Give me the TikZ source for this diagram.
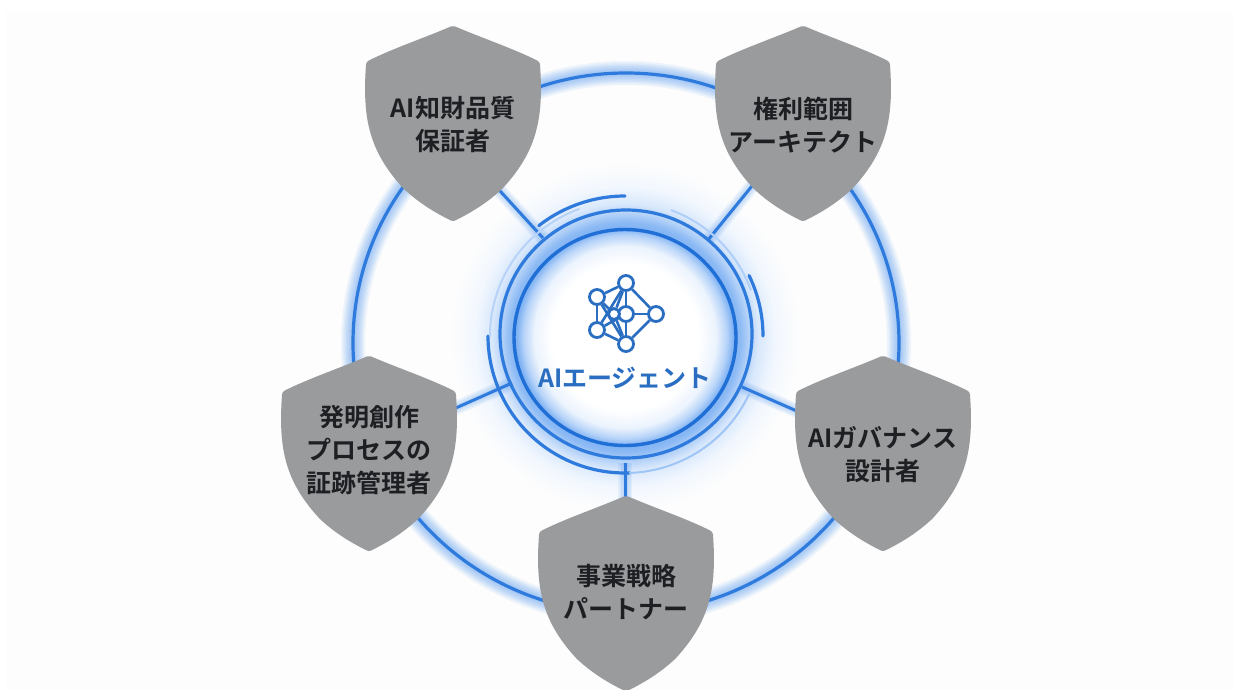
\documentclass[tikz,border=0pt]{standalone}
\usepackage{fontspec}
\setmainfont{Noto Sans CJK JP}[BoldFont={Noto Sans CJK JP Bold}]
\definecolor{bgc}{HTML}{FDFDFD}
\definecolor{ringc}{HTML}{2F7BDD}
\definecolor{deepc}{HTML}{1F6FD6}
\definecolor{iconc}{HTML}{2A6EC2}
\definecolor{shieldc}{HTML}{9A9B9D}
\definecolor{inkc}{HTML}{1E1F22}
\definecolor{haloc}{HTML}{5E9EF0}
\pgfdeclarelayer{base}
\pgfdeclarelayer{edges}
\pgfsetlayers{base,edges,main}
\pgfdeclareradialshading{hubglow}{\pgfpoint{0bp}{0bp}}{%
 color(0bp)=(white);
 color(10.5bp)=(white);
 color(13bp)=(haloc!12!white);
 color(14.5bp)=(haloc!45!white);
 color(15.5bp)=(haloc!80!white);
 color(16.5bp)=(haloc!70!white);
 color(17.5bp)=(haloc!50!white);
 color(19bp)=(haloc!24!white);
 color(21.5bp)=(haloc!8!white);
 color(25bp)=(bgc);
 color(50bp)=(bgc)}
\tikzset{
 x=1pt,y=-1pt,
 ringline/.style={draw=ringc,line width=3.2pt,line cap=round},
 spoke/.style={draw=ringc,line width=3pt},
 glowline/.style={draw=haloc,opacity=.1,line cap=butt},
 shieldbody/.style={fill=shieldc,draw=shieldc,line width=10pt,line join=round},
 shieldtext/.style={text=inkc,font=\bfseries\fontsize{25}{33}\selectfont,align=center,inner sep=0pt},
 netedge/.style={draw=iconc,line width=2.6pt},
 netnode/.style={circle,draw=iconc,line width=2.8pt,fill=white,minimum size=15pt,inner sep=0pt},
}
\newcommand{\ArcPath}[3]{plot[domain=#2:#3,samples=90,smooth] ({625+#1*cos(\x)},{336-#1*sin(\x)})}
\newcommand{\Shield}[5]{%
 \path[shieldbody] (#1,#2+6) .. controls (#1+28,#2+18) and (#1+58,#2+28) .. (#1+82,#2+40)
  .. controls (#1+86,#2+95) and (#1+78,#2+125) .. (#1+46,#2+160)
  .. controls (#1+30,#2+175) and (#1+14,#2+184) .. (#1,#2+191)
  .. controls (#1-14,#2+184) and (#1-30,#2+175) .. (#1-46,#2+160)
  .. controls (#1-78,#2+125) and (#1-86,#2+95) .. (#1-82,#2+40)
  .. controls (#1-58,#2+28) and (#1-28,#2+18) .. (#1,#2+6) -- cycle;
 \node[shieldtext] (#3) at (#1,#2+#5) {#4};}
\newcommand{\BigGlow}[1]{%
 \foreach \w in {5,8,11,14,17,20,24}{\draw[glowline,line width=\w pt] #1;}}
\newcommand{\SpokeGlow}[1]{%
 \foreach \w in {5,8,11,14}{\draw[glowline,line width=\w pt] #1;}}
\begin{document}
\begin{tikzpicture}
\useasboundingbox (0,0) rectangle (1239,690);
\begin{pgfonlayer}{base}
\fill[white] (0,0) rectangle (1239,690);
\fill[bgc] (6,12) rectangle (1233,690);
\shade[shading=hubglow] (625,337) circle[radius=175];
\coordinate (big) at (626,343);
\BigGlow{(big) circle[x radius=273,y radius=270]}
\draw[ringline] (big) circle[x radius=273,y radius=270];
\coordinate (h1) at (543,238);
\coordinate (h2) at (708,240);
\coordinate (h3) at (512,383);
\coordinate (h4) at (742,387);
\coordinate (h5) at (625,463);
\coordinate (o1) at (490,180);
\coordinate (o2) at (765,170);
\coordinate (o3) at (440,415);
\coordinate (o4) at (815,419);
\coordinate (o5) at (625,520);
\foreach \i in {1,...,5}{\SpokeGlow{(h\i) -- (o\i)}\draw[spoke] (h\i) -- (o\i);}
\draw[draw=deepc,line width=3.4pt] (625,337.5) circle[x radius=111,y radius=108];
\draw[ringline] (626,334) circle[x radius=126,y radius=124];
\draw[ringline] \ArcPath{137}{180}{272};
\draw[draw=haloc!60!white,line width=2pt,line cap=round] \ArcPath{137}{272}{335};
\draw[draw=haloc!45!white,line width=2pt,line cap=round] \ArcPath{135}{110}{180};
\draw[ringline] \ArcPath{140}{90}{128};
\draw[draw=haloc!50!white,line width=2pt] \ArcPath{134}{20}{70};
\draw[ringline] \ArcPath{138}{0}{26};
\end{pgfonlayer}
\node[netnode] (n1) at (626,283) {};
\node[netnode] (n2) at (597,297) {};
\node[netnode] (n3) at (597,330) {};
\node[netnode] (n4) at (626,314) {};
\node[netnode,minimum size=11pt] (n5) at (614,314) {};
\node[netnode] (n6) at (656,314) {};
\node[netnode] (n7) at (626,344) {};
\begin{pgfonlayer}{edges}
\foreach \a/\b in {n1/n2,n1/n6,n1/n4,n1/n3,n2/n3,n2/n7,n2/n5,n3/n7,n3/n4,n7/n6,n4/n6,n4/n7,n5/n4,n5/n1,n5/n7}{\draw[netedge] (\a) -- (\b);}
\end{pgfonlayer}
\node[text=iconc,font=\bfseries\fontsize{25}{28}\selectfont,inner sep=0pt] (hub) at (625,378) {AIエージェント};
\Shield{453}{25}{s1}{AI知財品質\\保証者}{100}
\Shield{803}{25}{s2}{権利範囲\\アーキテクト}{100}
\Shield{369}{355}{s3}{発明創作\\プロセスの\\証跡管理者}{95}
\Shield{883}{355}{s4}{AIガバナンス\\設計者}{100}
\Shield{626}{495}{s5}{事業戦略\\パートナー}{97}
\end{tikzpicture}
\end{document}
